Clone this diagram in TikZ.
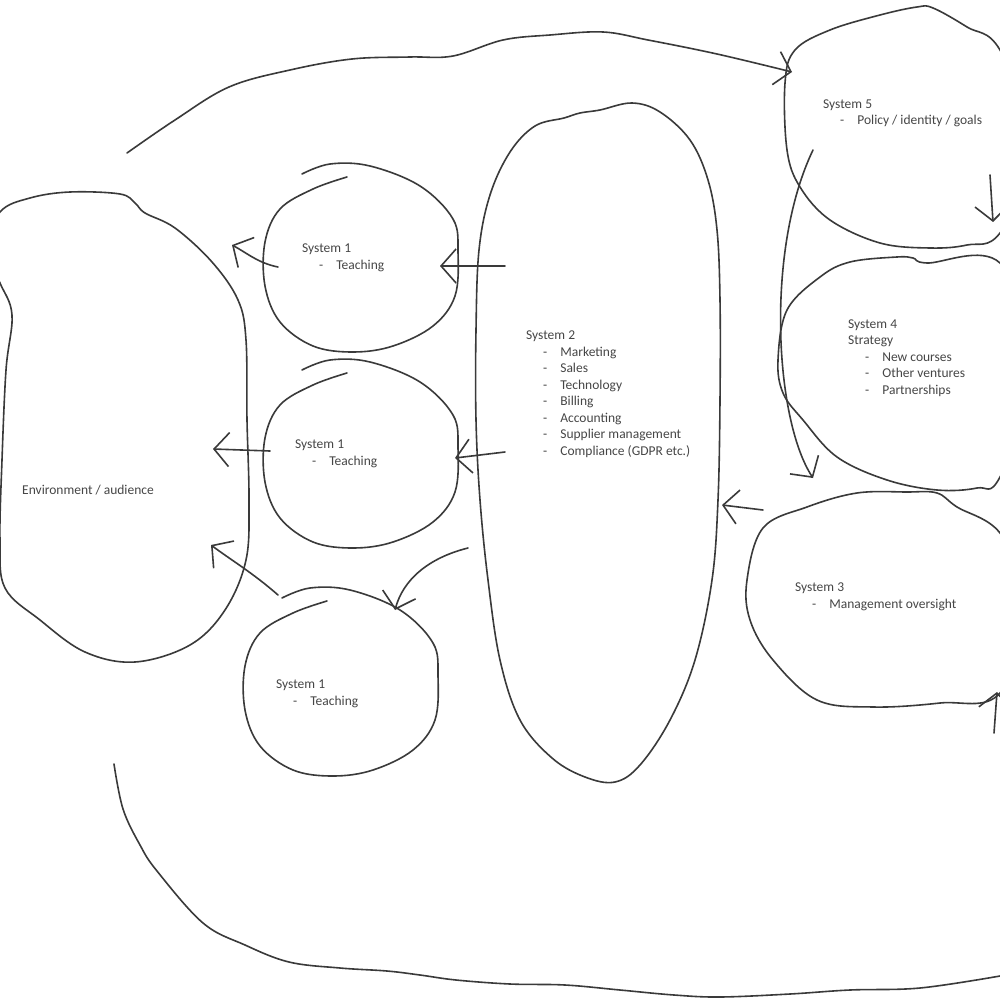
\documentclass[tikz,border=0pt]{standalone}
\usepackage{fontspec}
\setmainfont{Carlito}
\usepackage{tikz}
\usetikzlibrary{arrows.meta}

\definecolor{pencil}{RGB}{58,58,58}
\definecolor{inkgray}{RGB}{70,70,70}
\newcommand\itm[1]{\hspace*{17pt}-\hspace*{13pt}#1}

\tikzset{
  pen/.style={draw=pencil, line width=1.6pt, line cap=round, line join=round},
  flow/.style={pen, -{Straight Barb[length=15pt,width=34pt]}},
  % multi-line labels sit on the baseline of their last line
  lbl/.style={anchor=base west, inner sep=0pt, align=left, text=inkgray,
              font=\fontsize{13.5}{16.5}\selectfont},
  unit/.pic={
    \draw[pen] plot[smooth, tension=0.6] coordinates {(-13,-82) (-47,-70) (-80,-50) (-95,-17)
      (-95,27) (-80,63) (-47,87) (-7,93) (33,87) (73,67) (95,37) (98,-7) (93,-40)
      (60,-73) (10,-93) (-30,-95) (-58,-85)};
  }
}

\begin{document}
\begin{tikzpicture}[x=1pt, y=-1pt]
\useasboundingbox (0,0) rectangle (1000,1000);
\fill[white] (0,0) rectangle (1000,1000);
\clip (0,0) rectangle (1000,1000);

% environment
\draw[pen] plot[smooth cycle, tension=0.6] coordinates {(0,212) (30,198) (70,192) (120,194)
  (135,203) (145,213) (175,228) (212,262) (238,300) (246,340) (247,420) (249,500)
  (246,560) (225,610) (190,645) (135,662) (85,652) (40,620) (5,588) (0,540) (2,460)
  (6,370) (12,315) (0,283) (-15,250)};
\node[lbl] (env) at (22,494) {Environment / audience};

% system 1 units
\pic at (360,259) {unit};
\pic at (360,455) {unit};
\pic at (340,683) {unit};
\node[lbl] (sysA) at (302,269) {System 1\\\itm{Teaching}};
\node[lbl] (sysB) at (295,465) {System 1\\\itm{Teaching}};
\node[lbl] (sysC) at (276,705) {System 1\\\itm{Teaching}};

% system 2
\draw[pen] plot[smooth cycle, tension=0.6] coordinates {(564,118) (580,113) (600,110)
  (632,103) (660,112) (690,140) (708,180) (717,230) (720,300) (720,400) (718,500)
  (712,580) (695,660) (670,720) (640,765) (615,782) (585,777) (552,758) (520,720)
  (500,660) (488,580) (480,500) (476,420) (476,330) (479,250) (490,195) (510,152)
  (535,126)};
\node[lbl] (sysTwo) at (526,455) {System 2\\\itm{Marketing}\\\itm{Sales}\\\itm{Technology}\\
  \itm{Billing}\\\itm{Accounting}\\\itm{Supplier management}\\\itm{Compliance (GDPR etc.)}};

% system 5
\draw[pen] plot[smooth cycle, tension=0.6] coordinates {(795,50) (830,30) (880,15) (917,7)
  (933,8) (967,27) (1000,50) (1040,150) (1000,233) (967,245) (930,248) (880,243)
  (830,220) (800,187) (787,150) (785,83)};
\node[lbl] (sysFive) at (823,125) {System 5\\\itm{Policy / identity / goals}};

% system 4
\draw[pen] plot[smooth cycle, tension=0.6] coordinates {(820,277) (850,262) (897,257)
  (913,258) (927,263) (1000,263) (1040,370) (1000,477) (977,488) (937,490) (887,480)
  (837,457) (803,420) (783,393) (778,360) (787,310)};
\node[lbl] (sysFour) at (848,394) {System 4\\Strategy\\\itm{New courses}\\\itm{Other ventures}\\
  \itm{Partnerships}};

% system 3
\draw[pen] plot[smooth cycle, tension=0.6] coordinates {(763,528) (807,507) (857,493)
  (907,492) (937,493) (957,507) (1000,533) (1030,600) (1000,693) (940,703) (873,707)
  (817,700) (773,660) (750,620) (747,580)};
\node[lbl] (sysThree) at (795,608) {System 3\\\itm{Management oversight}};

% arrow ends
\coordinate (twoA) at (505,266);  \coordinate (unitA) at (440,266);
\coordinate (twoB) at (505,452);  \coordinate (unitB) at (455,458);
\coordinate (twoC) at (468,548);  \coordinate (unitC) at (395,610);
\coordinate (outA) at (278,267);  \coordinate (envA) at (232,245);
\coordinate (outB) at (270,451);  \coordinate (envB) at (213,449);
\coordinate (outC) at (278,595);  \coordinate (envC) at (211,545);
\coordinate (fiveR) at (990,175); \coordinate (fourT) at (993,222);
\coordinate (fiveL) at (813,150); \coordinate (threeT) at (813,478);
\coordinate (threeL) at (763,510); \coordinate (twoR) at (722,505);
\coordinate (loopEnd) at (994,733); \coordinate (threeB) at (997,692);

\draw[flow] (twoA) -- (unitA);
\draw[flow] (twoB) -- (unitB);
\draw[flow] (twoC) .. controls +(-40,10) and +(8,-30) .. (unitC);
\draw[flow] (outA) .. controls +(-20,-4) and +(15,8) .. (envA);
\draw[flow] (outB) -- (envB);
\draw[flow] (outC) .. controls +(-25,-22) and +(20,15) .. (envC);
\draw[flow] (fiveR) -- (fourT);
\draw[flow] (fiveL) .. controls (765,250) and (775,420) .. (threeT);
\draw[flow] (threeL) -- (twoR);
\draw[flow] (loopEnd) -- (threeB);

% outer loop
\draw[flow] plot[smooth, tension=0.6] coordinates {(127,153) (175,120) (229,87) (290,70)
  (352,59) (410,57) (453,56) (503,40) (550,35) (603,32) (648,40) (717,54) (792,72)};
\draw[pen] plot[smooth, tension=0.6] coordinates {(114,764) (123,809) (140,845) (157,871)
  (203,923) (245,945) (289,962) (340,968) (387,971) (420,975) (456,980) (510,984)
  (565,985) (620,990) (674,995) (720,997) (790,994) (850,990) (920,988) (1000,976)};
\end{tikzpicture}
\end{document}
